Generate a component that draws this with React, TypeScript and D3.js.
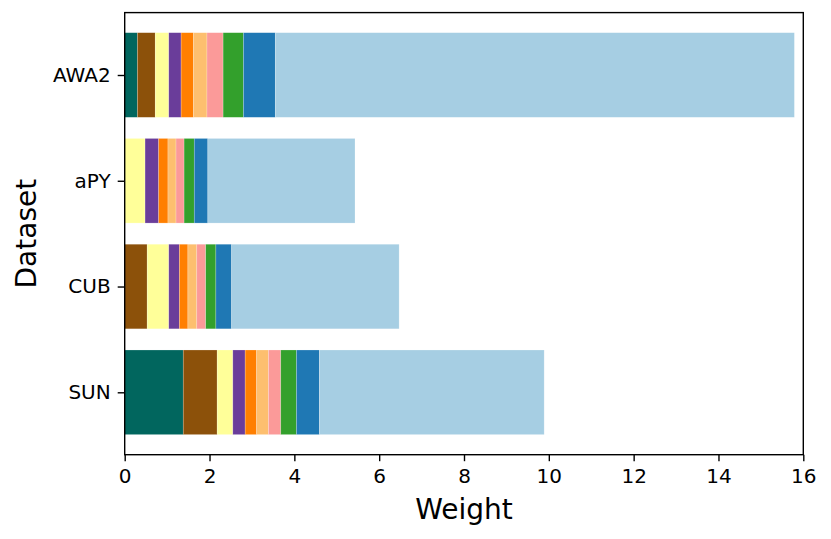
import { useEffect, useRef } from 'react';
import * as d3 from 'd3';

// datasets from bottom to top
const datasets = ['SUN', 'CUB', 'aPY', 'AWA2'];

// stacked weight components, left to right, one value per dataset
const part1 = [1.38, 0, 0, 0.3];
const part2 = [0.8, 0.53, 0, 0.42];
const part3 = [0.37, 0.51, 0.48, 0.32];
const part4 = [0.29, 0.25, 0.32, 0.29];
const part5 = [0.27, 0.2, 0.22, 0.29];
const part6 = [0.28, 0.21, 0.19, 0.32];
const part7 = [0.29, 0.21, 0.19, 0.38];
const part8 = [0.37, 0.24, 0.24, 0.48];
const part9 = [0.54, 0.37, 0.32, 0.75];
const part10 = [5.3, 3.95, 3.47, 12.24];

const parts = [part1, part2, part3, part4, part5, part6, part7, part8, part9, part10];
const partColors = [
  '#01665e', '#8c510a', '#ffff99', '#6a3d9a', '#ff7f00',
  '#fdbf6f', '#fb9a99', '#33a02c', '#1f78b4', '#a6cee3',
];
const xTicks = [0, 2, 4, 6, 8, 10, 12, 14, 16];

export default function App() {
  const ref = useRef<SVGSVGElement>(null);

  useEffect(() => {
    if (!ref.current) return;
    const svg = d3.select(ref.current);
    svg.selectAll('*').remove();

    const left = 124.7;
    const right = 803.3;
    const top = 12.6;
    const bottom = 454.7;
    const font = 'DejaVu Sans, sans-serif';

    const x = d3.scaleLinear().domain([0, 16]).range([left, right]);
    // matplotlib-style categorical y: index positions with 0.05 margins
    const y = d3.scaleLinear().domain([-0.59, 3.59]).range([bottom, top]);
    const barH = y(0) - y(0.8);

    const keys = parts.map((_, i) => `p${i}`);
    const table = datasets.map((name, di) => {
      const row: Record<string, any> = { name, idx: di };
      parts.forEach((p, i) => (row[`p${i}`] = p[di]));
      return row;
    });
    const series = d3.stack<any>().keys(keys)(table);

    const g = svg.append('g');
    series.forEach((s, i) => {
      g.selectAll(null)
        .data(s)
        .enter()
        .append('rect')
        .attr('x', (d) => x(d[0]))
        .attr('y', (d) => y(d.data.idx) - barH / 2)
        .attr('width', (d) => Math.max(0, x(d[1]) - x(d[0])))
        .attr('height', barH)
        .attr('fill', partColors[i])
        .attr('stroke', 'white')
        .attr('stroke-opacity', (d) => (d[1] - d[0] > 0 ? 0.35 : 0))
        .attr('stroke-width', 0.6);
    });

    // frame
    svg
      .append('rect')
      .attr('x', left)
      .attr('y', top)
      .attr('width', right - left)
      .attr('height', bottom - top)
      .attr('fill', 'none')
      .attr('stroke', 'black')
      .attr('stroke-width', 1.4);

    // x axis
    const xAxis = svg
      .append('g')
      .attr('transform', `translate(0,${bottom})`)
      .call(d3.axisBottom(x).tickValues(xTicks).tickSize(6.5).tickPadding(8).tickFormat(d3.format('d')));
    xAxis.select('.domain').remove();
    xAxis.selectAll('.tick line').attr('stroke', 'black').attr('stroke-width', 1.4);
    xAxis.selectAll('.tick text').attr('font-family', font).attr('font-size', 20).attr('fill', 'black');

    // y axis
    const yAxis = svg
      .append('g')
      .attr('transform', `translate(${left},0)`)
      .call(
        d3
          .axisLeft(y)
          .tickValues(datasets.map((_, i) => i))
          .tickSize(7)
          .tickPadding(7)
          .tickFormat((d) => datasets[d as number])
      );
    yAxis.select('.domain').remove();
    yAxis.selectAll('.tick line').attr('stroke', 'black').attr('stroke-width', 1.4);
    yAxis.selectAll('.tick text').attr('font-family', font).attr('font-size', 20).attr('fill', 'black');

    svg
      .append('text')
      .attr('x', (left + right) / 2)
      .attr('y', 519)
      .attr('text-anchor', 'middle')
      .attr('font-family', font)
      .attr('font-size', 28)
      .text('Weight');

    svg
      .append('text')
      .attr('transform', `translate(36,${(top + bottom) / 2}) rotate(-90)`)
      .attr('text-anchor', 'middle')
      .attr('font-family', font)
      .attr('font-size', 28)
      .text('Dataset');
  }, []);

  return (
    <svg
      ref={ref}
      width={831}
      height={539}
      style={{ position: 'absolute', left: 0, top: 0, background: 'white' }}
    />
  );
}
